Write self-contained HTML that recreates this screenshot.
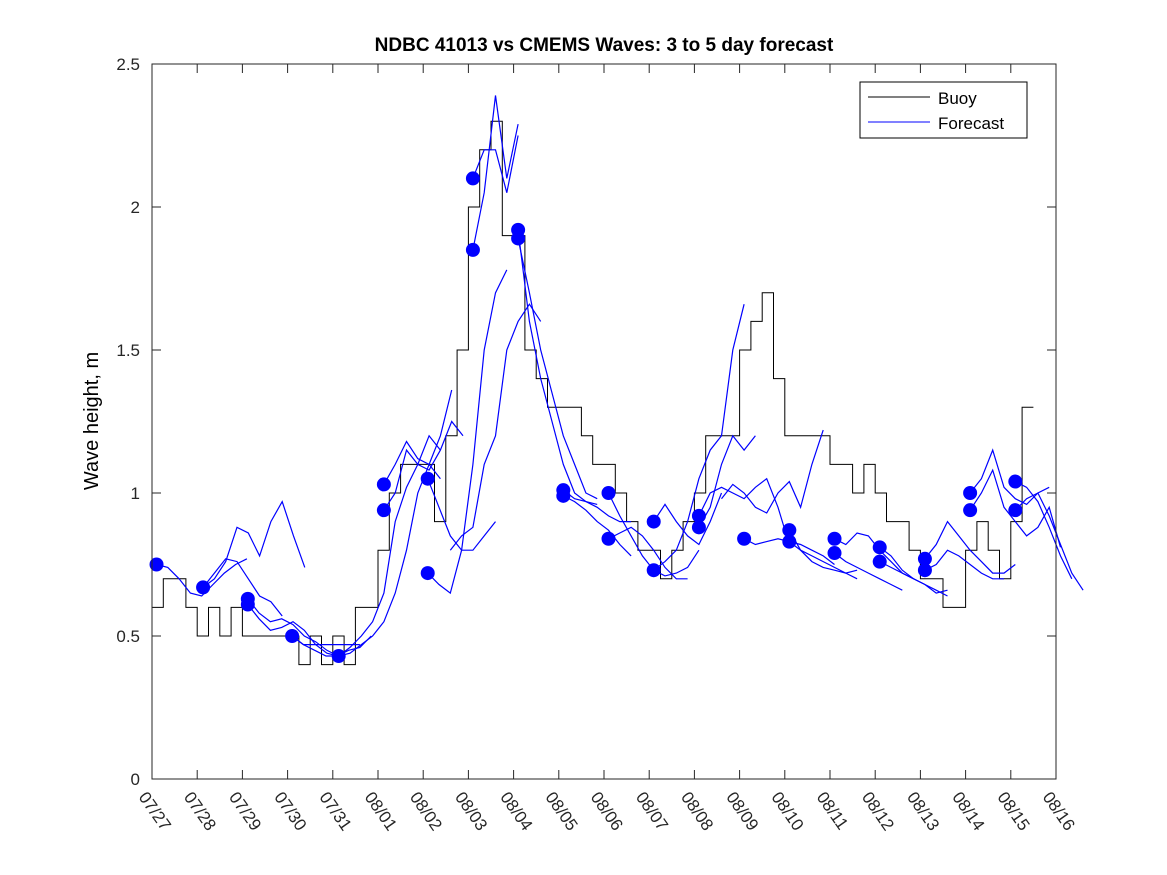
<!DOCTYPE html>
<html><head><meta charset="utf-8"><style>
body{margin:0;background:#fff;}
svg{display:block;font-family:"Liberation Sans","DejaVu Sans",sans-serif;}
</style></head><body>
<svg id="chart" width="1167" height="875" viewBox="0 0 1167 875" xmlns="http://www.w3.org/2000/svg">
<rect width="1167" height="875" fill="#fff"/>
<text x="604" y="51" text-anchor="middle" font-size="19" font-weight="bold">NDBC 41013 vs CMEMS Waves: 3 to 5 day forecast</text>
<text transform="translate(98,421) rotate(-90)" text-anchor="middle" font-size="20">Wave height, m</text>
<g id="plot"></g>
<g>
<rect x="860" y="82" width="167" height="56" fill="#fff" stroke="#000" stroke-width="1"/>
<line x1="868" y1="97" x2="930" y2="97" stroke="#000"/>
<text x="938" y="104" font-size="17">Buoy</text>
<line x1="868" y1="122" x2="930" y2="122" stroke="#0000ff"/>
<text x="938" y="129" font-size="17">Forecast</text>
</g>
</svg>
<script>
const xLabels=["07/27","07/28","07/29","07/30","07/31","08/01","08/02","08/03","08/04","08/05","08/06","08/07","08/08","08/09","08/10","08/11","08/12","08/13","08/14","08/15","08/16"];
const yTicks=[0,0.5,1,1.5,2,2.5];
const buoyStep=0.25;
const buoy=[0.6,0.7,0.7,0.6, 0.5,0.6,0.5,0.6, 0.5,0.5,0.5,0.5, 0.5,0.4,0.5,0.4, 0.5,0.4,0.6,0.6,
 0.8,1.0,1.1,1.1, 1.1,0.9,1.2,1.5, 2.0,2.2,2.3,1.9, 1.9,1.5,1.4,1.3,
 1.3,1.3,1.2,1.1, 1.1,1.0,0.9,0.8, 0.8,0.7,0.8,0.9, 1.0,1.2,1.2,1.2, 1.5,1.6,1.7,1.4,
 1.2,1.2,1.2,1.2, 1.1,1.1,1.0,1.1, 1.0,0.9,0.9,0.8, 0.7,0.7,0.6,0.6, 0.8,0.9,0.8,0.7, 0.9,1.3];
const fcStep=0.25;
const runStarts=[0.1,1.13,1.13,2.12,2.12,3.1,3.1,4.13,4.13,5.13,5.13,6.1,6.1,6.6,7.1,7.1,8.1,8.1,9.1,9.1,10.1,10.1,11.1,11.1,12.1,12.1,12.6,13.1,14.1,14.1,15.1,15.1,16.1,16.1,17.1,17.1,18.1,18.1,19.1,19.1];
const runHasDot=[1,1,0,1,1,1,0,1,0,1,1,1,1,0,1,1,1,1,1,1,1,1,1,1,1,1,0,1,1,1,1,1,1,1,1,1,1,1,1,1];
const runValues=[
[.75,.74,.70,.65,.64,.68,.72,.75,.77],
[.67,.70,.76,.88,.86,.78,.90,.97,.85,.74],
[.67,.72,.77,.76,.70,.64,.62,.57],
[.63,.58,.55,.56,.54,.50,.48,.45,.43],
[.61,.56,.52,.53,.55,.52,.47,.44,.43],
[.5,.47,.45,.43,.43,.45,.46,.50],
[.5,.47,.47,.47,.47,.47,.47],
[.43,.46,.50,.55,.65,.90,1.02,1.1,1.2,1.15],
[.43,.44,.47,.50,.55,.65,.8,1.0,1.1,1.05],
[1.03,1.1,1.18,1.12,1.1,1.2,1.36],
[.94,1.0,1.15,1.1,1.08,1.15,1.25,1.2],
[1.05,.95,.85,.80,.80,.85,.90],
[.72,.68,.65,.80,1.1,1.5,1.7,1.78],
[.8,.85,.88,1.1,1.2,1.5,1.6,1.66,1.6],
[2.1,2.2,2.2,2.05,2.25],
[1.85,2.05,2.39,2.1,2.29],
[1.92,1.6,1.4,1.25,1.1,1.0,.97,.96],
[1.89,1.7,1.5,1.35,1.2,1.1,1.0,.98],
[1.01,.98,.97,.95,.92,.90,.90],
[.99,.97,.94,.90,.87,.82,.78],
[1.0,.92,.85,.78,.73,.71,.72,.74,.80],
[.84,.86,.88,.85,.80,.74,.70,.70],
[.9,.96,.90,.85,.82,.90,1.0],
[.73,.76,.80,.9,1.05,1.15,1.2,1.5,1.66],
[.92,1.0,1.02,1.0,.98,1.02,1.05,.95,.82],
[.88,.95,1.1,1.2,1.15,1.2],
[.98,1.03,1.0,.95,.93,1.0,1.04,.95,1.1,1.22],
[.84,.82,.83,.84,.83,.82,.80,.78,.75],
[.87,.80,.76,.74,.73,.72,.73],
[.83,.80,.78,.76,.74,.72,.70],
[.84,.82,.86,.85,.80,.76,.72,.70],
[.79,.76,.74,.72,.70,.68,.66],
[.81,.78,.73,.70,.68,.65,.66],
[.76,.74,.72,.70,.68,.66,.64],
[.77,.82,.90,.85,.80,.76,.72,.72,.75],
[.73,.75,.80,.78,.75,.72,.70,.70],
[1.0,1.05,1.15,1.02,.98,.96,1.0,1.02],
[.94,1.0,1.08,.95,.90,.85,.88,.95,.81],
[1.04,1.02,.97,.88,.78,.70],
[.94,.98,1.0,.92,.82,.72,.66]
];
const X0=152,X1=1056,Y0=779,Y1=64,DAYS=20,YMAX=2.5;
function xs(d){return X0+(X1-X0)*d/DAYS;}
function ys(v){return Y0-(Y0-Y1)*v/YMAX;}
const NS="http://www.w3.org/2000/svg";
const g=document.getElementById('plot');
function mk(t,a){const e=document.createElementNS(NS,t);for(const k in a)e.setAttribute(k,a[k]);g.appendChild(e);return e;}
let p="";
buoy.forEach((v,i)=>{const x0=xs(i*buoyStep),x1=xs((i+1)*buoyStep);p+=(i?"L":"M")+x0.toFixed(1)+","+ys(v).toFixed(1)+"L"+x1.toFixed(1)+","+ys(v).toFixed(1);});
const bl=mk('path',{d:p,fill:'none',stroke:'#000','stroke-width':1});


runValues.forEach((vals,r)=>{
  const s=runStarts[r];
  const d=vals.map((v,i)=>(i?"L":"M")+xs(s+i*fcStep).toFixed(1)+","+ys(v).toFixed(1)).join("");
  const l=mk('path',{d:d,fill:'none',stroke:'#0000ff','stroke-width':1.2});
  
  
});
runValues.forEach((vals,r)=>{
  if(!runHasDot[r]) return;
  const c=mk('circle',{cx:xs(runStarts[r]),cy:ys(vals[0]),r:7,fill:'#0000ff'});
  
  
});
const box=mk('rect',{x:X0,y:Y1,width:X1-X0,height:Y0-Y1,fill:'none',stroke:'#262626','stroke-width':1});


yTicks.forEach(v=>{
  const y=ys(v);
  mk('line',{x1:X0,y1:y,x2:X0+9,y2:y,stroke:'#262626'});
  mk('line',{x1:X1,y1:y,x2:X1-9,y2:y,stroke:'#262626'});
  const t=mk('text',{x:X0-12,y:y+6,'text-anchor':'end','font-size':17,fill:'#262626'});
  t.textContent=String(v);
  
  
});
xLabels.forEach((s,i)=>{
  const x=xs(i);
  mk('line',{x1:x,y1:Y0,x2:x,y2:Y0-9,stroke:'#262626'});
  mk('line',{x1:x,y1:Y1,x2:x,y2:Y1+9,stroke:'#262626'});
  const t=mk('text',{transform:'translate('+(x-14)+','+(Y0+18)+') rotate(55)','font-size':17,fill:'#262626'});
  t.textContent=s;
  
  
});
</script>
</body></html>
